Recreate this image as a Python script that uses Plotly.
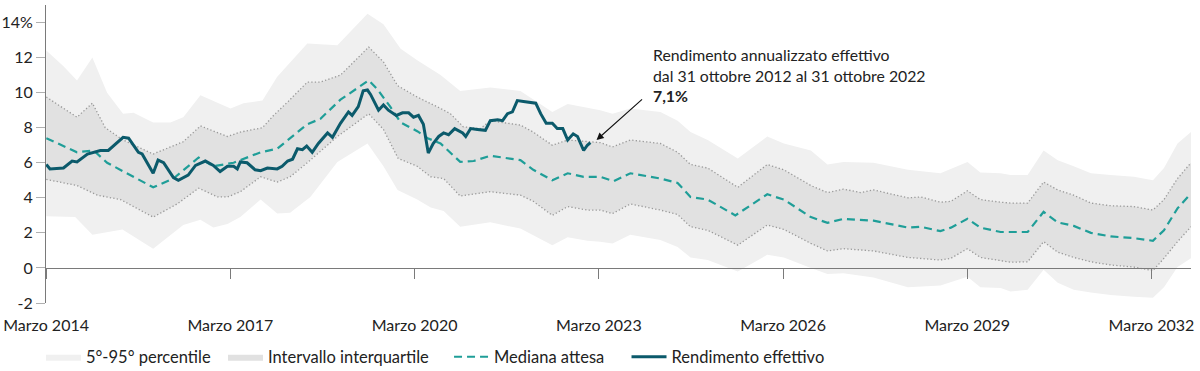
import plotly.graph_objects as go

# ---------------- data (decimal years, % values) ----------------
p95_t = [2014.17, 2014.45, 2014.67, 2014.92, 2015.16, 2015.42, 2015.59, 2015.91, 2016.19, 2016.40,
         2016.68, 2017.17, 2017.38, 2017.69, 2017.93, 2018.11, 2018.42, 2018.91, 2019.40, 2019.66,
         2019.94, 2020.21, 2020.59, 2020.91, 2021.40, 2021.89, 2022.41, 2022.66, 2023.19, 2023.39,
         2023.68, 2024.17, 2024.45, 2024.66, 2024.94, 2025.43, 2025.91, 2026.18, 2026.62, 2026.89,
         2027.15, 2027.64, 2028.20, 2028.73, 2029.17, 2029.38, 2029.71, 2029.87, 2030.15, 2030.41,
         2030.64, 2030.90, 2031.18, 2031.50, 2031.88, 2032.19, 2032.37, 2032.59, 2032.81]
p95_v = [12.4, 11.5, 10.7, 12.0, 10.0, 8.8, 8.85, 8.3, 8.3, 8.6,
         9.85, 9.1, 9.4, 9.55, 10.9, 11.6, 12.8, 12.7, 14.5, 13.9,
         12.5, 11.85, 11.0, 10.1, 10.3, 10.1, 8.9, 9.35, 9.0, 8.8,
         9.1, 8.9, 8.4, 7.75, 7.3, 6.25, 7.5, 7.1, 6.7, 5.9,
         6.05, 6.0, 5.6, 5.4, 6.05, 5.45, 5.4, 5.3, 5.3, 6.7,
         6.15, 5.8, 5.4, 5.3, 5.2, 5.0, 5.7, 7.1, 7.75]

p5_t = [2014.17, 2014.64, 2014.92, 2015.16, 2015.41, 2015.91, 2016.40, 2016.68, 2016.89, 2017.12,
        2017.33, 2017.66, 2017.93, 2018.14, 2018.47, 2018.91, 2019.40, 2019.66, 2019.89, 2020.21,
        2020.43, 2020.64, 2020.91, 2021.40, 2021.89, 2022.41, 2022.66, 2022.98, 2023.19, 2023.39,
        2023.68, 2024.17, 2024.45, 2024.66, 2024.94, 2025.43, 2025.91, 2026.18, 2026.62, 2026.89,
        2027.15, 2027.64, 2028.20, 2028.73, 2029.17, 2029.38, 2029.71, 2029.87, 2030.15, 2030.41,
        2030.64, 2030.90, 2031.18, 2031.50, 2031.88, 2032.19, 2032.37, 2032.59, 2032.81]
p5_v = [2.95, 2.9, 1.9, 2.05, 2.2, 1.1, 2.45, 2.75, 2.3, 2.5,
        2.9, 3.9, 3.1, 3.15, 4.05, 6.05, 7.1, 5.8, 4.45, 3.9,
        3.45, 3.25, 2.35, 2.6, 2.25, 1.3, 1.75, 1.55, 1.5, 1.4,
        1.9, 1.6, 1.2, 0.6, 0.45, -0.2, 0.75, 0.6, 0.0, -0.35,
        -0.3, -0.55, -1.1, -1.0, -0.5, -1.1, -1.15, -1.35, -1.25, -0.1,
        -0.85, -1.25, -1.4, -1.55, -1.65, -1.7, -1.1, 0.05, 0.55]

q75_t = [2014.17, 2014.67, 2014.92, 2015.13, 2015.42, 2015.91, 2016.40, 2016.68, 2017.12, 2017.33,
         2017.69, 2017.87, 2018.11, 2018.42, 2018.63, 2018.96, 2019.42, 2019.66, 2019.89, 2020.21,
         2020.59, 2020.75, 2020.96, 2021.24, 2021.40, 2021.61, 2021.89, 2022.10, 2022.41, 2022.66,
         2022.98, 2023.19, 2023.39, 2023.68, 2024.17, 2024.45, 2024.66, 2024.94, 2025.43, 2025.91,
         2026.18, 2026.62, 2026.89, 2027.15, 2027.43, 2027.64, 2028.20, 2028.41, 2028.73, 2028.90,
         2029.17, 2029.38, 2029.71, 2029.87, 2030.15, 2030.41, 2030.64, 2030.90, 2031.18, 2031.50,
         2031.88, 2032.19, 2032.37, 2032.59, 2032.81]
q75_v = [9.75, 8.6, 9.4, 8.0, 7.3, 6.5, 7.2, 8.1, 7.5, 7.75,
         8.0, 8.7, 9.5, 10.6, 10.6, 11.0, 12.6, 11.75, 10.4, 9.75,
         9.1, 8.8, 8.05, 7.95, 8.4, 8.3, 8.15, 7.75, 7.0, 7.3,
         7.2, 7.15, 6.9, 7.3, 7.1, 6.6, 5.9, 5.7, 4.6, 5.9,
         5.6, 4.7, 4.3, 4.5, 4.3, 4.45, 4.0, 4.05, 3.75, 3.8,
         4.4, 3.9, 3.75, 3.7, 3.7, 4.9, 4.45, 4.15, 3.7, 3.55,
         3.5, 3.3, 3.9, 5.1, 6.0]

q25_t = [2014.17, 2014.67, 2015.00, 2015.38, 2015.91, 2016.30, 2016.65, 2016.96, 2017.12, 2017.33,
         2017.66, 2017.93, 2018.14, 2018.42, 2018.91, 2019.42, 2019.66, 2019.90, 2020.21, 2020.43,
         2020.64, 2020.91, 2021.40, 2021.89, 2022.10, 2022.41, 2022.66, 2022.98, 2023.19, 2023.39,
         2023.68, 2024.17, 2024.45, 2024.66, 2024.94, 2025.43, 2025.91, 2026.18, 2026.62, 2026.89,
         2027.15, 2027.64, 2028.20, 2028.73, 2028.90, 2029.17, 2029.38, 2029.71, 2029.87, 2030.15,
         2030.41, 2030.64, 2030.90, 2031.18, 2031.50, 2031.88, 2032.19, 2032.37, 2032.59, 2032.81]
q25_v = [5.05, 4.7, 4.15, 3.9, 2.9, 3.65, 4.55, 4.05, 4.05, 4.35,
         5.2, 4.9, 5.2, 6.0, 7.5, 8.8, 7.9, 6.25, 5.8, 5.2,
         5.1, 4.1, 4.35, 4.15, 3.8, 3.0, 3.5, 3.3, 3.3, 3.1,
         3.65, 3.3, 3.05, 2.35, 2.15, 1.3, 2.45, 2.2, 1.4, 0.97,
         1.1, 0.97, 0.6, 0.45, 0.55, 1.1, 0.6, 0.4, 0.33, 0.35,
         1.5, 0.9, 0.6, 0.35, 0.17, 0.05, -0.15, 0.55, 1.5, 2.35]

med_t = [2014.17, 2014.67, 2014.94, 2015.16, 2015.91, 2016.24, 2016.65, 2016.89, 2017.22, 2017.66,
         2017.93, 2018.42, 2018.63, 2018.96, 2019.42, 2019.56, 2019.77, 2019.94, 2020.21, 2020.38,
         2020.59, 2020.91, 2021.13, 2021.40, 2021.89, 2022.10, 2022.41, 2022.66, 2022.92, 2023.19,
         2023.41, 2023.68, 2024.17, 2024.45, 2024.66, 2024.94, 2025.39, 2025.91, 2026.18, 2026.62,
         2026.89, 2027.15, 2027.64, 2028.20, 2028.41, 2028.73, 2028.90, 2029.17, 2029.38, 2029.71,
         2030.15, 2030.41, 2030.64, 2030.90, 2031.18, 2031.50, 2031.88, 2032.19, 2032.37, 2032.59,
         2032.81]
med_v = [7.4, 6.6, 6.7, 6.0, 4.6, 5.1, 6.3, 5.8, 6.0, 6.6,
         6.8, 8.2, 8.5, 9.6, 10.7, 10.2, 9.2, 8.3, 7.8, 7.4,
         7.1, 6.05, 6.1, 6.4, 6.15, 5.6, 5.0, 5.4, 5.2, 5.2,
         4.95, 5.4, 5.1, 4.85, 4.05, 3.9, 3.0, 4.2, 3.9, 2.9,
         2.57, 2.8, 2.7, 2.3, 2.35, 2.1, 2.3, 2.8, 2.3, 2.05,
         2.05, 3.2, 2.6, 2.4, 2.0, 1.8, 1.7, 1.55, 2.15, 3.4,
         4.25]

real_t = [2014.17, 2014.23, 2014.45, 2014.59, 2014.67, 2014.84, 2015.05, 2015.18, 2015.42, 2015.51,
          2015.67, 2015.73, 2015.91, 2015.99, 2016.08, 2016.24, 2016.32, 2016.48, 2016.60, 2016.76,
          2016.89, 2017.00, 2017.12, 2017.22, 2017.28, 2017.33, 2017.44, 2017.57, 2017.66, 2017.77,
          2017.93, 2018.01, 2018.10, 2018.18, 2018.26, 2018.34, 2018.41, 2018.50, 2018.60, 2018.75,
          2018.83, 2018.96, 2019.09, 2019.15, 2019.25, 2019.33, 2019.40, 2019.45, 2019.58, 2019.66,
          2019.74, 2019.87, 2019.97, 2020.07, 2020.15, 2020.23, 2020.31, 2020.39, 2020.47, 2020.56,
          2020.64, 2020.72, 2020.82, 2020.95, 2021.00, 2021.08, 2021.19, 2021.32, 2021.40, 2021.52,
          2021.60, 2021.68, 2021.76, 2021.84, 2021.94, 2022.02, 2022.14, 2022.22, 2022.31, 2022.41,
          2022.49, 2022.58, 2022.66, 2022.75, 2022.82, 2022.92, 2022.98, 2023.03]
real_v = [5.9, 5.65, 5.7, 6.1, 6.05, 6.5, 6.7, 6.7, 7.45, 7.4,
          6.6, 6.5, 5.4, 6.15, 6.0, 5.15, 5.0, 5.3, 5.85, 6.1,
          5.85, 5.5, 5.8, 5.8, 5.65, 6.05, 6.0, 5.6, 5.55, 5.7,
          5.65, 5.8, 6.1, 6.2, 6.8, 6.75, 6.95, 6.6, 7.1, 7.7,
          7.45, 8.25, 8.9, 8.7, 9.2, 10.1, 10.15, 9.9, 9.0, 9.3,
          9.0, 8.7, 8.85, 8.85, 8.6, 8.7, 8.2, 6.55, 7.1, 7.5,
          7.7, 7.6, 7.95, 7.7, 7.5, 7.95, 7.9, 7.85, 8.4, 8.45,
          8.4, 8.8, 8.9, 9.55, 9.5, 9.45, 9.4, 8.8, 8.25, 8.25,
          7.95, 7.95, 7.3, 7.65, 7.5, 6.7, 7.0, 7.15]

tick_years = [2014, 2017, 2020, 2023, 2026, 2029, 2032]
tick_labels = [f"Marzo {y}" for y in tick_years]
y_ticks = [-2, 0, 2, 4, 6, 8, 10, 12, 14]
y_labels = ["-2", "0", "2", "4", "6", "8", "10", "12", "14%"]

series_names = ["5°-95° percentile", "Intervallo interquartile", "Mediana attesa", "Rendimento effettivo"]

note_lines = ["Rendimento annualizzato effettivo",
              "dal 31 ottobre 2012 al 31 ottobre 2022"]
note_value = "7,1%"

# ---------------- styling ----------------
FONT = "Lato"
TXT = "#222222"
LIGHT = "#f0f0f0"
MID = "#e1e1e1"
DOT = "#9a9a9a"
MED_C = "#1f9e98"
REAL_C = "#0b5a6b"

fig = go.Figure()

fig.add_trace(go.Scatter(
    x=p95_t + p5_t[::-1], y=p95_v + p5_v[::-1],
    fill="toself", fillcolor=LIGHT, mode="lines", line=dict(width=0, color=LIGHT),
    name=series_names[0], legend="legend", hoverinfo="skip"))

fig.add_trace(go.Scatter(
    x=q75_t + q25_t[::-1], y=q75_v + q25_v[::-1],
    fill="toself", fillcolor=MID, mode="lines", line=dict(width=0, color=MID),
    name=series_names[1], legend="legend2", hoverinfo="skip"))
for tt, vv in ((q75_t, q75_v), (q25_t, q25_v)):
    fig.add_trace(go.Scatter(
        x=tt, y=vv, mode="lines", line=dict(color=DOT, width=1.3, dash="1.3px,2.2px"),
        showlegend=False, hoverinfo="skip"))

fig.add_trace(go.Scatter(
    x=med_t, y=med_v, mode="lines", name=series_names[2], legend="legend3",
    line=dict(color=MED_C, width=2.2, dash="8px,5px")))

fig.add_trace(go.Scatter(
    x=real_t, y=real_v, mode="lines", name=series_names[3], legend="legend4",
    line=dict(color=REAL_C, width=3)))

y_min, y_max = -2, 15
x_min, x_max = 2014.165, 2032.81
FIG_H = 371


def legend_at(xpos):
    return dict(orientation="h", x=xpos, xanchor="left",
                yref="container", y=1 - 357 / FIG_H, yanchor="middle",
                font=dict(size=16.5, color=TXT), itemwidth=35,
                bgcolor="rgba(0,0,0,0)")


fig.update_layout(
    width=1200, height=FIG_H,
    margin=dict(l=46, r=9, t=5, b=68, autoexpand=False),
    paper_bgcolor="white", plot_bgcolor="white",
    font=dict(family=FONT, size=16, color=TXT),
    showlegend=True,
    legend=legend_at(-0.0044),
    legend2=legend_at(0.1546),
    legend3=legend_at(0.3520),
    legend4=legend_at(0.5070),
    xaxis=dict(
        range=[x_min, x_max], automargin=False,
        tickvals=[y + 2 / 12 for y in tick_years], ticktext=tick_labels,
        showgrid=False, zeroline=False,
        showline=True, linecolor="#7a7a7a", linewidth=1,
        ticks="outside", ticklen=10, tickcolor="#7a7a7a", tickwidth=1,
        anchor="free", position=(0 - y_min) / (y_max - y_min),
        ticklabelstandoff=33,
        tickfont=dict(size=16, color=TXT)),
    yaxis=dict(
        range=[y_min, y_max], automargin=False,
        tickvals=y_ticks, ticktext=y_labels,
        showgrid=False, zeroline=False,
        showline=True, linecolor="#7a7a7a", linewidth=1,
        ticks="outside", ticklen=9, tickcolor="#b0b0b0", tickwidth=1,
        tickfont=dict(size=16, color=TXT)),
)

fig.add_annotation(
    x=2024.01, y=12.85, xref="x", yref="y", xanchor="left", yanchor="top",
    align="left", showarrow=False,
    text="<br>".join(note_lines) + f"<br><b>{note_value}</b>",
    font=dict(size=15.8, color=TXT, family=FONT))

fig.add_annotation(
    x=2023.13, y=7.3, xref="x", yref="y", text="", showarrow=True,
    ax=47, ay=-42, arrowhead=2, arrowsize=1.3, arrowwidth=1.1, arrowcolor="#111111")

fig.write_html("out.html", config={"displayModeBar": False},
               post_script="document.body.style.margin='0';document.body.style.padding='0';")
